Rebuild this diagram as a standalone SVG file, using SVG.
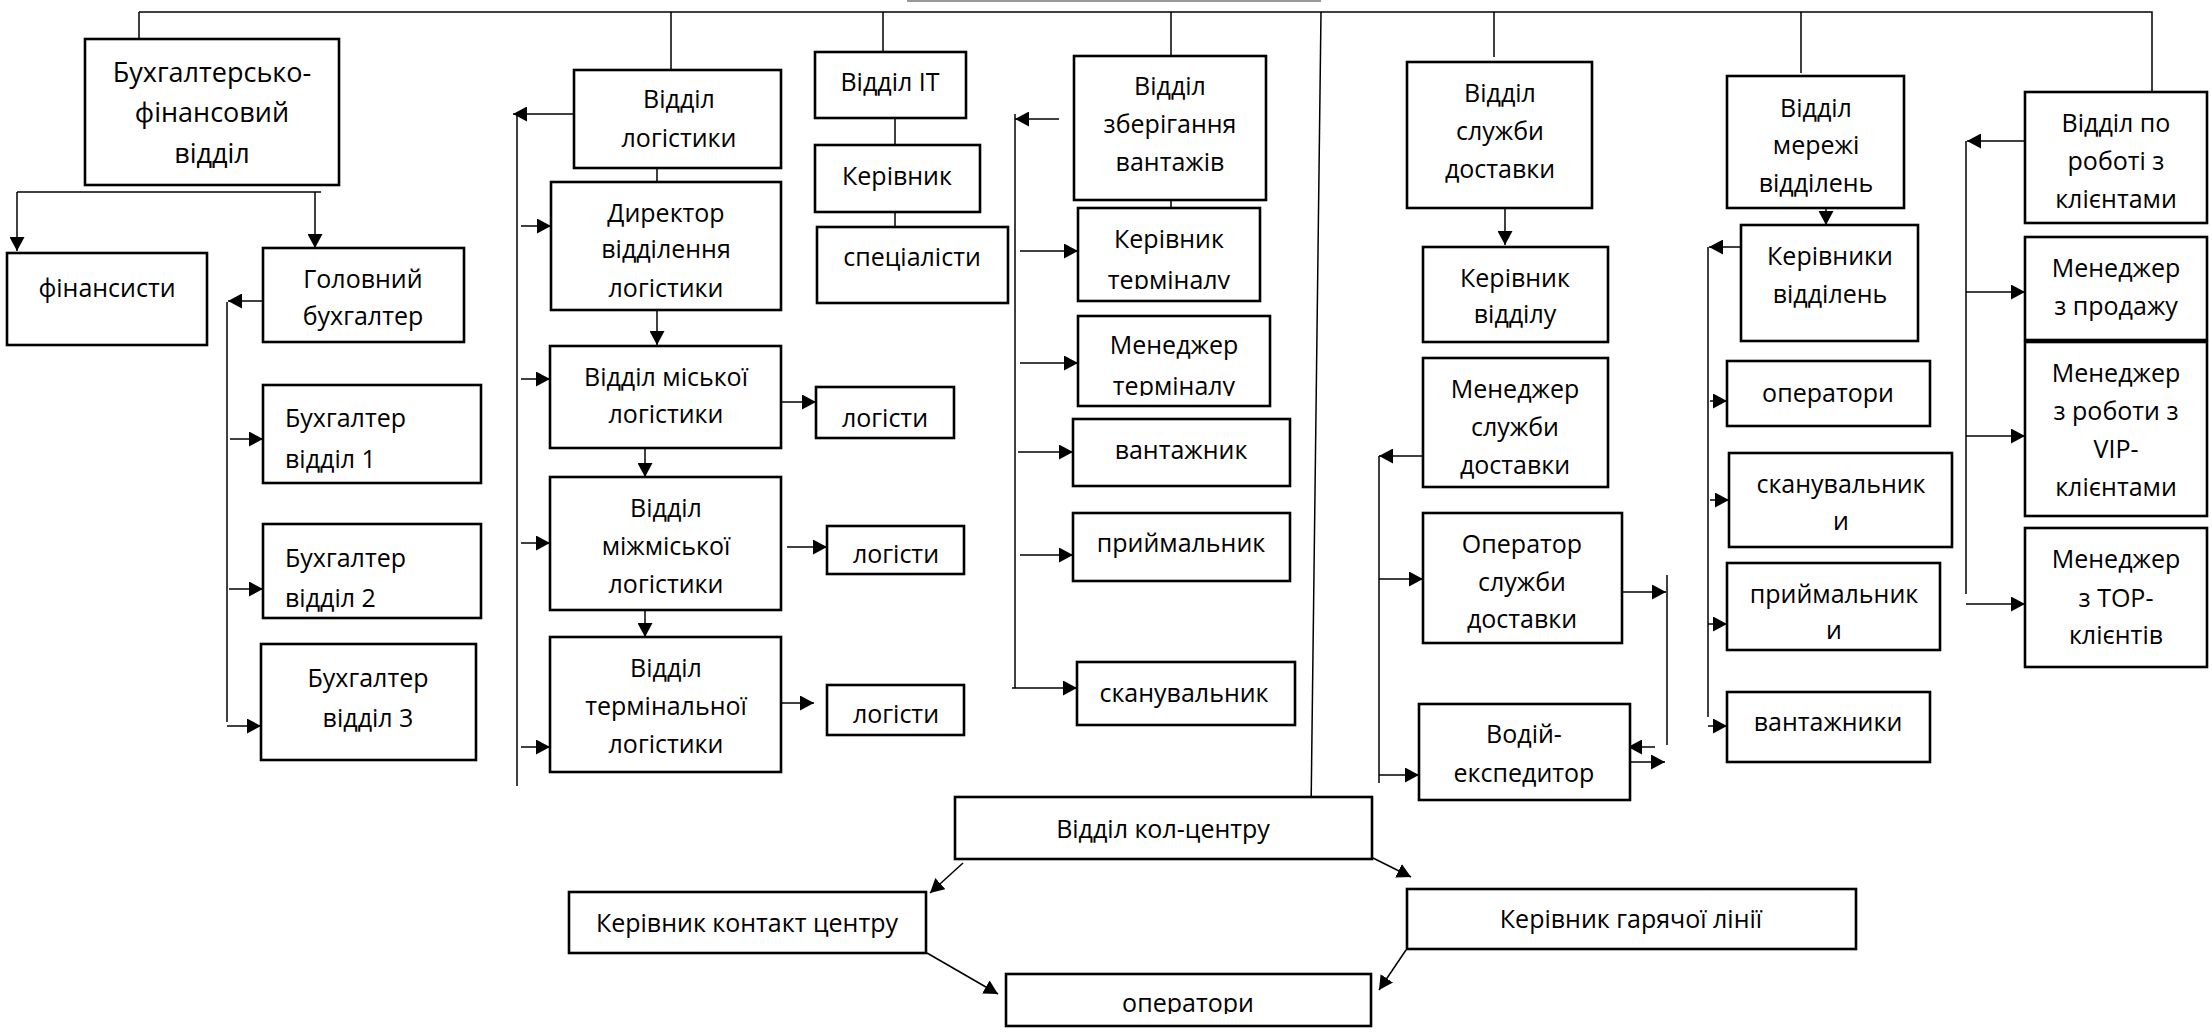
<svg xmlns="http://www.w3.org/2000/svg" width="2212" height="1033" viewBox="0 0 2212 1033">
<style>
.b{fill:#fff;stroke:#000;stroke-width:2.6}
.t{font-family:"Open Sans","Noto Sans","DejaVu Sans",sans-serif;font-size:25px;fill:#000;text-anchor:middle}
.l{text-anchor:start}
.c{fill:none;stroke:#000;stroke-width:1.5}
.a{fill:none;stroke:#000;stroke-width:1.5;marker-end:url(#ah)}
</style>
<defs>
<marker id="ah" markerUnits="userSpaceOnUse" markerWidth="15" markerHeight="15" refX="14" refY="7.5" orient="auto"><path d="M0,0 L14,7.5 L0,15 Z" fill="#000"/></marker>
<clipPath id="cpKT"><rect x="1078" y="208" width="182" height="81"/></clipPath>
<clipPath id="cpMT"><rect x="1078" y="316" width="192" height="80"/></clipPath>
<clipPath id="cpL2"><rect x="827" y="526" width="137" height="38"/></clipPath>
<clipPath id="cpOC"><rect x="1006" y="974" width="365" height="40"/></clipPath>
</defs>
<rect width="2212" height="1033" fill="#fff"/>

<g id="connectors">
<line x1="907" y1="1" x2="1321" y2="1" stroke="#999" stroke-width="2"/>
<path class="c" d="M139,12 H2152 V95"/>
<path class="c" d="M139,12 V39 M671,12 V70 M883,12 V52 M1171,12 V56 M1494,12 V57 M1801,12 V73"/>
<line class="a" x1="1321" y1="12" x2="1311" y2="813"/>
<!-- accounting -->
<line class="a" x1="139" y1="142" x2="139" y2="177"/>
<path class="c" d="M17,192 H321"/>
<line class="a" x1="17" y1="192" x2="17" y2="251"/>
<line class="a" x1="315" y1="192" x2="315" y2="248"/>
<line class="a" x1="263" y1="301" x2="228" y2="301"/>
<path class="c" d="M227,302 V722"/>
<line class="a" x1="230" y1="439" x2="263" y2="439"/>
<line class="a" x1="229" y1="589" x2="263" y2="589"/>
<line class="a" x1="227" y1="726" x2="261" y2="726"/>
<!-- logistics -->
<line class="a" x1="574" y1="114" x2="513" y2="114"/>
<path class="c" d="M517,114 V786"/>
<line class="a" x1="521" y1="226" x2="551" y2="226"/>
<line class="a" x1="521" y1="379" x2="550" y2="379"/>
<line class="a" x1="521" y1="543" x2="550" y2="543"/>
<line class="a" x1="521" y1="747" x2="550" y2="747"/>
<path class="c" d="M657,168 V182"/>
<line class="a" x1="657" y1="310" x2="657" y2="345"/>
<line class="a" x1="645" y1="438" x2="645" y2="477"/>
<line class="a" x1="645" y1="603" x2="645" y2="637"/>
<line class="a" x1="781" y1="402" x2="816" y2="402"/>
<line class="a" x1="787" y1="547" x2="827" y2="547"/>
<line class="a" x1="775" y1="703" x2="814" y2="703"/>
<!-- IT -->
<path class="c" d="M895,118 V145 M895,209 V227"/>
<!-- storage -->
<line class="a" x1="1059" y1="119" x2="1015" y2="119"/>
<path class="c" d="M1015,114 V688"/>
<line class="a" x1="1020" y1="251" x2="1078" y2="251"/>
<line class="a" x1="1020" y1="363" x2="1078" y2="363"/>
<line class="a" x1="1018" y1="452" x2="1073" y2="452"/>
<line class="a" x1="1020" y1="555" x2="1073" y2="555"/>
<line class="a" x1="1012" y1="688" x2="1077" y2="688"/>
<path class="c" d="M1171,194 V208"/>
<!-- delivery -->
<line class="a" x1="1505" y1="208" x2="1505" y2="245"/>
<line class="a" x1="1423" y1="456" x2="1379" y2="456"/>
<path class="c" d="M1379,456 V783"/>
<line class="a" x1="1379" y1="579" x2="1423" y2="579"/>
<line class="a" x1="1379" y1="775" x2="1419" y2="775"/>
<line class="a" x1="1608" y1="592" x2="1666" y2="592"/>
<path class="c" d="M1667,575 V745"/>
<line class="a" x1="1655" y1="747" x2="1628" y2="747"/>
<line class="a" x1="1630" y1="762" x2="1665" y2="762"/>
<!-- network -->
<line class="a" x1="1826" y1="205" x2="1826" y2="225"/>
<line class="a" x1="1741" y1="247" x2="1709" y2="247"/>
<path class="c" d="M1708,247 V717"/>
<line class="a" x1="1710" y1="401" x2="1727" y2="401"/>
<line class="a" x1="1710" y1="500" x2="1729" y2="500"/>
<line class="a" x1="1708" y1="624" x2="1727" y2="624"/>
<line class="a" x1="1708" y1="726" x2="1727" y2="726"/>
<!-- clients -->
<line class="a" x1="2025" y1="141" x2="1967" y2="141"/>
<path class="c" d="M1966,141 V594"/>
<line class="a" x1="1966" y1="292" x2="2025" y2="292"/>
<line class="a" x1="1966" y1="436" x2="2025" y2="436"/>
<line class="a" x1="1966" y1="604" x2="2025" y2="604"/>
<!-- call centre -->
<line class="a" x1="963" y1="863" x2="930" y2="893"/>
<line class="a" x1="927" y1="953" x2="998" y2="994"/>
<line class="a" x1="1373" y1="858" x2="1411" y2="877"/>
<line class="a" x1="1406" y1="950" x2="1379" y2="990"/>
</g>

<g id="n-buh"><rect class="b" x="85" y="39" width="254" height="146"/><text class="t" style="font-size:27px" x="212" y="82">Бухгалтерсько-</text><text class="t" style="font-size:27px" x="212" y="122">фінансовий</text><text class="t" style="font-size:27px" x="212" y="163">відділ</text></g>
<g id="n-fin"><rect class="b" x="7" y="253" width="200" height="92"/><text class="t" x="107" y="297">фінансисти</text></g>
<g id="n-golov"><rect class="b" x="263" y="248" width="201" height="94"/><text class="t" x="363" y="288">Головний</text><text class="t" x="363" y="325">бухгалтер</text></g>
<g id="n-b1"><rect class="b" x="263" y="385" width="218" height="98"/><text class="t l" x="285" y="427">Бухгалтер</text><text class="t l" x="285" y="468">відділ 1</text></g>
<g id="n-b2"><rect class="b" x="263" y="524" width="218" height="94"/><text class="t l" x="285" y="567">Бухгалтер</text><text class="t l" x="285" y="607">відділ 2</text></g>
<g id="n-b3"><rect class="b" x="261" y="644" width="215" height="116"/><text class="t" x="368" y="687">Бухгалтер</text><text class="t" x="368" y="727">відділ 3</text></g>

<g id="n-log"><rect class="b" x="574" y="70" width="207" height="98"/><text class="t" x="679" y="108">Відділ</text><text class="t" x="679" y="147">логістики</text></g>
<g id="n-dir"><rect class="b" x="551" y="182" width="230" height="128"/><text class="t" x="666" y="222">Директор</text><text class="t" x="666" y="258">відділення</text><text class="t" x="666" y="297">логістики</text></g>
<g id="n-misk"><rect class="b" x="550" y="346" width="231" height="102"/><text class="t" x="666" y="386">Відділ міської</text><text class="t" x="666" y="423">логістики</text></g>
<g id="n-mizh"><rect class="b" x="550" y="477" width="231" height="133"/><text class="t" x="666" y="517">Відділ</text><text class="t" x="666" y="555">міжміської</text><text class="t" x="666" y="593">логістики</text></g>
<g id="n-term"><rect class="b" x="550" y="637" width="231" height="135"/><text class="t" x="666" y="677">Відділ</text><text class="t" x="666" y="715">термінальної</text><text class="t" x="666" y="753">логістики</text></g>
<g id="n-logi1"><rect class="b" x="816" y="387" width="138" height="51"/><text class="t" x="885" y="427">логісти</text></g>
<g id="n-logi2"><rect class="b" x="827" y="526" width="137" height="48"/><text class="t" x="896" y="563" clip-path="url(#cpL2)">логісти</text></g>
<g id="n-logi3"><rect class="b" x="827" y="685" width="137" height="50"/><text class="t" x="896" y="723">логісти</text></g>

<g id="n-it"><rect class="b" x="815" y="52" width="151" height="66"/><text class="t" x="890" y="91">Відділ IT</text></g>
<g id="n-kerit"><rect class="b" x="815" y="145" width="165" height="67"/><text class="t" x="897" y="185">Керівник</text></g>
<g id="n-spec"><rect class="b" x="817" y="227" width="191" height="76"/><text class="t" x="912" y="266">спеціалісти</text></g>

<g id="n-zber"><rect class="b" x="1074" y="56" width="192" height="144"/><text class="t" x="1170" y="95">Відділ</text><text class="t" x="1170" y="133">зберігання</text><text class="t" x="1170" y="171">вантажів</text></g>
<g id="n-kerterm"><rect class="b" x="1078" y="208" width="182" height="93"/><g clip-path="url(#cpKT)"><text class="t" x="1169" y="248">Керівник</text><text class="t" x="1169" y="289">терміналу</text></g></g>
<g id="n-menterm"><rect class="b" x="1078" y="316" width="192" height="90"/><g clip-path="url(#cpMT)"><text class="t" x="1174" y="354">Менеджер</text><text class="t" x="1174" y="395">терміналу</text></g></g>
<g id="n-vant"><rect class="b" x="1073" y="419" width="217" height="67"/><text class="t" x="1181" y="459">вантажник</text></g>
<g id="n-pryim"><rect class="b" x="1073" y="513" width="217" height="68"/><text class="t" x="1181" y="552">приймальник</text></g>
<g id="n-skan"><rect class="b" x="1077" y="662" width="218" height="63"/><text class="t" x="1184" y="702">сканувальник</text></g>

<g id="n-sluzh"><rect class="b" x="1407" y="62" width="185" height="146"/><text class="t" x="1500" y="102">Відділ</text><text class="t" x="1500" y="140">служби</text><text class="t" x="1500" y="178">доставки</text></g>
<g id="n-kervid"><rect class="b" x="1423" y="247" width="185" height="95"/><text class="t" x="1515" y="287">Керівник</text><text class="t" x="1515" y="323">відділу</text></g>
<g id="n-mensl"><rect class="b" x="1423" y="358" width="185" height="129"/><text class="t" x="1515" y="398">Менеджер</text><text class="t" x="1515" y="436">служби</text><text class="t" x="1515" y="474">доставки</text></g>
<g id="n-oper"><rect class="b" x="1423" y="513" width="199" height="130"/><text class="t" x="1522" y="553">Оператор</text><text class="t" x="1522" y="591">служби</text><text class="t" x="1522" y="628">доставки</text></g>
<g id="n-vodiy"><rect class="b" x="1419" y="704" width="211" height="96"/><text class="t" x="1524" y="743">Водій-</text><text class="t" x="1524" y="782">експедитор</text></g>

<g id="n-merezh"><rect class="b" x="1727" y="76" width="177" height="132"/><text class="t" x="1816" y="117">Відділ</text><text class="t" x="1816" y="154">мережі</text><text class="t" x="1816" y="192">відділень</text></g>
<g id="n-kervidd"><rect class="b" x="1741" y="225" width="177" height="116"/><text class="t" x="1830" y="265">Керівники</text><text class="t" x="1830" y="303">відділень</text></g>
<g id="n-operatory"><rect class="b" x="1727" y="361" width="203" height="65"/><text class="t" x="1828" y="402">оператори</text></g>
<g id="n-skanuv"><rect class="b" x="1729" y="453" width="223" height="94"/><text class="t" x="1841" y="493">сканувальник</text><text class="t" x="1841" y="530">и</text></g>
<g id="n-pryimy"><rect class="b" x="1727" y="563" width="213" height="87"/><text class="t" x="1834" y="603">приймальник</text><text class="t" x="1834" y="639">и</text></g>
<g id="n-vantazh"><rect class="b" x="1727" y="692" width="203" height="70"/><text class="t" x="1828" y="731">вантажники</text></g>

<g id="n-klient"><rect class="b" x="2025" y="92" width="182" height="131"/><text class="t" x="2116" y="132">Відділ по</text><text class="t" x="2116" y="170">роботі з</text><text class="t" x="2116" y="208">клієнтами</text></g>
<g id="n-prodazh"><rect class="b" x="2025" y="237" width="182" height="103"/><text class="t" x="2116" y="277">Менеджер</text><text class="t" x="2116" y="315">з продажу</text></g>
<g id="n-vip"><rect class="b" x="2025" y="342" width="182" height="174"/><text class="t" x="2116" y="382">Менеджер</text><text class="t" x="2116" y="420">з роботи з</text><text class="t" x="2116" y="458">VIP-</text><text class="t" x="2116" y="496">клієнтами</text></g>
<g id="n-top"><rect class="b" x="2025" y="528" width="182" height="139"/><text class="t" x="2116" y="568">Менеджер</text><text class="t" x="2116" y="607">з TOP-</text><text class="t" x="2116" y="644">клієнтів</text></g>

<g id="n-kol"><rect class="b" x="955" y="797" width="417" height="62"/><text class="t" x="1163" y="838">Відділ кол-центру</text></g>
<g id="n-kontakt"><rect class="b" x="569" y="892" width="357" height="61"/><text class="t" x="747" y="932">Керівник контакт центру</text></g>
<g id="n-opercc"><rect class="b" x="1006" y="974" width="365" height="52"/><text class="t" x="1188" y="1012" clip-path="url(#cpOC)">оператори</text></g>
<g id="n-hot"><rect class="b" x="1407" y="889" width="449" height="60"/><text class="t" x="1631" y="928">Керівник гарячої лінії</text></g>
</svg>
